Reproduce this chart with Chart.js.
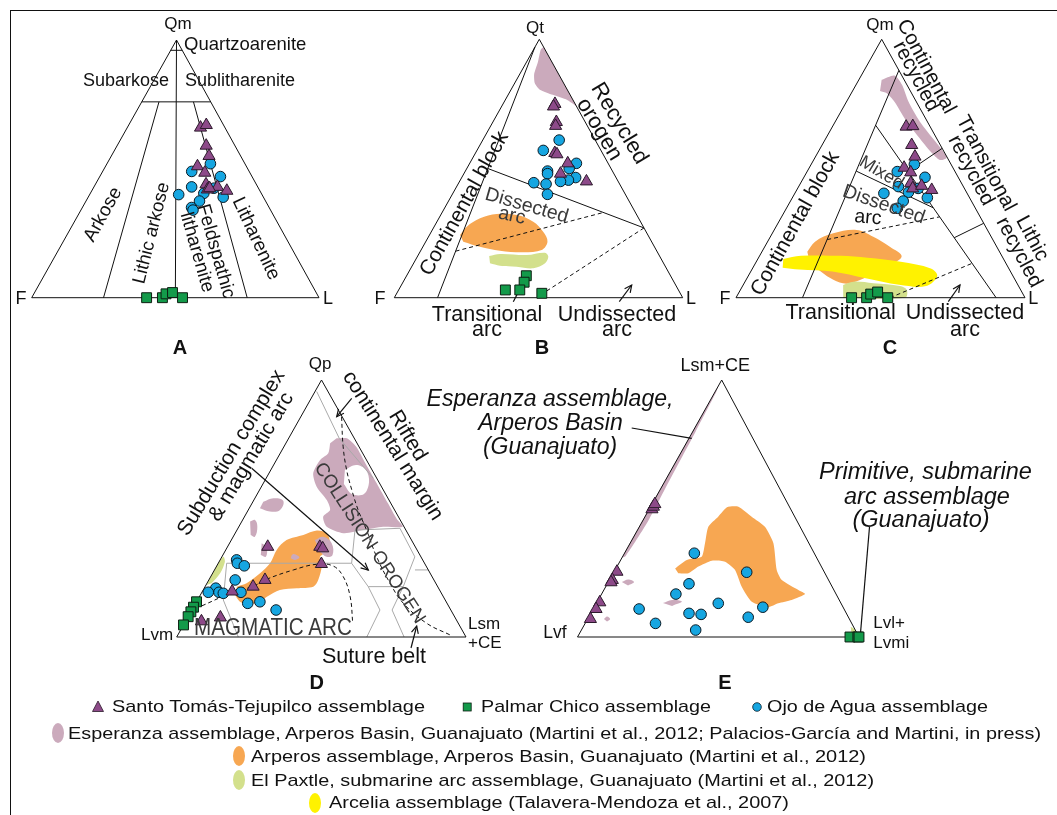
<!DOCTYPE html>
<html>
<head>
<meta charset="utf-8">
<title>Provenance ternary diagrams</title>
<script src="https://cdn.jsdelivr.net/npm/chart.js@4.4.1/dist/chart.umd.min.js"></script>
<style>
  html, body { margin: 0; padding: 0; background: #fff; }
  #wrap { position: relative; width: 1057px; height: 815px; overflow: hidden; background: #fff; }
  #plot { position: absolute; left: 0; top: 0; }
  #frame { position: absolute; left: 10px; top: 10px; width: 1060px; height: 820px;
           border-left: 1.6px solid #111; border-top: 1.6px solid #111; }
  .lb { position: absolute; white-space: nowrap; line-height: 1; color: #111;
        font-family: "Liberation Sans", Arial, Helvetica, sans-serif; }
  .lg { position: absolute; white-space: nowrap; line-height: 1; color: #111;
        font-family: "Liberation Sans", Arial, Helvetica, sans-serif; font-size: 17px;
        transform-origin: left center; }
  .sym { position: absolute; }
</style>
</head>
<body>
<div id="wrap">
  <canvas id="plot" width="1057" height="815"></canvas>
  <div id="frame"></div>
</div>
<script>
// ---------- compositions, % (apex, lower-left, lower-right) ----------
// A: Qm-F-L
const A_SantoTomas = [[66,8.5,25.5],[67,6,27],[59,10,31],[55,11,34],[51,17,32],[48.5,15.7,35.8],[44,17.5,38.5],[42,18,40],[43,14,43],[41.5,11.5,47],[42.5,17,40.5]];
const A_OjoAgua = [[52,12,36],[49,20,31],[47,11,42],[43,23,34],[42.5,15.5,42],[40,29,31],[40.5,20,39.5],[39,14,47],[37.5,23,39.5],[35,27,38],[34,27,39]];
const A_PalmarChico = [[0,60,40],[0,54.5,45.5],[1.5,52.5,46],[2,50,48],[0,47.5,52.5]];

// B: Qt-F-L
const B_SantoTomas = [[75,7,18],[74,8,18],[68,10,22],[66.5,11,22.5],[56,16.5,27.5],[55.5,16,28.5],[52,14,34],[48,18.5,33.5],[45,11,44]];
const B_OjoAgua = [[61,12.5,26.5],[57,20,23],[49,22.5,28.5],[48,23,29],[52,11,37],[50,14.5,35.5],[46.5,14,39.5],[45.5,17,37.5],[45,20,35],[44.5,29.5,26],[44,25.5,30.5],[40,27,33]];
const B_PalmarChico = [[8.5,50,41.5],[6,52,42],[3,60,37],[3,55,42],[1.7,48,50.3]];
const B_Esperanza = [[97,0,3],[96,1.5,2.5],[91,5,4],[86.5,8.5,5],[83,10,7],[80.5,9.5,10],[78.5,6,15.5],[76.5,2,21.5],[74,0,26]];
const B_Arperos = [[24.3,65.1,10.6],[27.5,61.2,11.3],[30.7,55,14.3],[32.4,48.4,19.2],[32,41.6,26.4],[29.4,37.2,33.4],[25.5,35.7,38.8],[21.7,36.1,42.2],[18.5,39.7,41.8],[17.6,46.5,35.9],[18.2,54.3,27.5],[19.7,60.5,19.8],[21.7,65.3,13]];
const B_Paxtle = [[16.1,59.1,24.8],[16.9,54.9,28.2],[16.5,45.9,37.6],[17.4,39.1,43.5],[15.9,38.7,45.4],[13.3,41.1,45.6],[11.4,46.1,42.5],[12,51.6,36.4],[12.4,57.2,30.4],[13.3,60.2,26.5]];

// C: Qm-F-Lt
const C_SantoTomas = [[66.2,8.3,25.5],[66.4,5.9,27.7],[59.1,9.9,31],[54.6,11,34.4],[50.3,16.9,32.8],[48.5,15.5,36],[44.3,17.6,38.1],[42.3,17.9,39.8],[43.3,14.3,42.4],[41.7,11.6,46.7]];
const C_OjoAgua = [[51.6,12.7,35.7],[48.8,20,31.2],[46.6,11.5,41.9],[43,22.5,34.5],[42.3,16,41.7],[40.8,20.1,39.1],[38.7,14.6,46.7],[40.4,28.8,30.8],[37.4,23.6,39],[34.6,27,38.4]];
const C_PalmarChico = [[0,60,40],[0,54.8,45.2],[1.4,52.7,45.9],[2.2,49.9,47.9],[0,47.5,52.5]];
const C_Esperanza = [[84.3,7.8,7.9],[86,2.5,11.5],[82.3,1.7,16],[75.9,2.7,21.4],[68.1,2.6,29.3],[60.6,1.1,38.3],[56.5,0.2,43.3],[54.2,0.2,45.6],[53.3,3,43.7],[56.5,4.6,38.9],[62.3,6,31.7],[68.8,7.2,24],[75.9,7.6,16.5],[79.1,8.6,12.3],[80,10.5,9.5]];
const C_Arperos = [[17.8,66.5,15.7],[21.7,61.9,16.4],[24.9,54,21.1],[26.2,45.3,28.5],[23.6,40.8,35.6],[19.7,37,43.3],[15.9,34.8,49.3],[12,41.9,46.1],[5.6,57.8,36.6],[6.9,62.9,30.2],[13.3,67.8,18.9]];
const C_Arcelia = [[15,76.2,8.8],[16.2,69.5,14.3],[16.2,55.7,28.1],[15.5,46.8,37.7],[13.9,36.1,50],[11.3,27,61.7],[8.4,26.2,65.4],[4.5,32,63.5],[5,41.1,53.9],[7.5,51.4,41.1],[10.1,61.6,28.3],[10.9,72.7,16.4],[11.6,78.1,10.3]];
const C_Paxtle = [[4.9,60.5,34.6],[6.2,56.3,37.5],[5.6,49.7,44.7],[4.5,41,54.5],[3,39.4,57.6],[0,41.5,58.5],[0,62.9,37.1]];

// D: Qp-Lvm-(Lsm+CE)
const D_SantoTomas = [[35.1,51,13.9],[35.1,33,31.9],[34.5,32.3,33.2],[28.4,35.8,35.8],[22.2,58.4,19.4],[19.6,63.8,16.6],[17.7,72,10.3],[6.1,88.4,5.5],[7.6,81.1,11.3]];
const D_OjoAgua = [[30,64.3,5.7],[28.7,64.7,6.6],[27.7,62.8,9.5],[22.2,68.7,9.1],[19,77,4],[17.4,76.7,5.9],[17,75.4,7.6],[17.4,80.4,2.2],[17.4,69.1,13.5],[13.1,68.9,18],[13.7,64.4,21.9],[10.5,60.4,29.1]];
const D_PalmarChico = [[13.7,86.3,0],[11.6,88.4,0],[9.8,90.2,0],[7.9,92.1,0],[4.7,95.3,0]];
const D_Esperanza = [[77.3,6.1,16.6],[77.3,2.6,20.1],[74,1,25],[68,1,31],[60,1,39],[52,1,47],[46,1,53],[42.9,0.5,56.6],[42.9,7.2,49.9],[41.6,14.7,43.7],[40.4,22.2,37.4],[42.9,26.7,30.4],[46.8,26,27.2],[49.4,22.3,28.3],[53.3,21.5,25.2],[58.5,22.4,19.1],[63.7,21,15.3],[68.9,16,15.1],[71.5,11.9,16.6],[75.4,9.3,15.3]];
const D_EsperanzaGap = [[65,9.4,25.6],[66.9,4.6,28.5],[65,2.1,32.9],[60.3,3.4,36.3],[55.6,7.5,36.9],[55.6,11.7,32.7],[59.5,12.5,28]];
const D_EsperanzaSmall = [
  [[52.6,43.8,3.6],[54,39.6,6.4],[53,36.7,10.3],[49.4,39.6,11],[48.8,43.4,7.8],[50.1,46.2,3.7]],
  [[44.9,52.2,2.9],[45.5,50.2,4.3],[42.9,50.7,6.4],[39,53.5,7.5],[39.7,54.6,5.7]],
  [[36.5,52.4,11.1],[34.9,51.5,13.6],[31.2,53.6,15.2],[31.9,55,13.1]]
];
const D_EsperanzaInArperos = [
  [[37.7,33.4,28.9],[39,29.9,31.1],[36.5,28.2,35.3],[31.9,30.2,37.9],[31.2,32.6,36.2],[33.2,33.9,32.9]],
  [[31.9,44.3,23.8],[32.3,43.4,24.3],[31,42.1,26.9],[30,44.1,25.9],[30.6,45.3,24.1]]
];
const D_Arperos = [[19.6,69.4,11],[20.9,65.4,13.7],[24.8,58.8,16.4],[28.7,53.4,17.9],[33.9,48.5,17.6],[37.7,43.2,19.1],[39.7,36.4,23.9],[41.4,30.9,27.7],[40.4,27.9,31.7],[36.5,28.8,34.7],[33.2,31.6,35.2],[31.2,34.9,33.9],[27.4,36.2,36.4],[22.2,40,37.8],[19.6,43,37.4],[19,49,32],[18.3,55.2,26.5],[15.7,61,23.3],[13.1,65.8,21.1],[13.1,69.3,17.6],[13.7,71.3,15],[16.3,71.7,12]];
const D_Paxtle = [[20.2,79.6,0.2],[27.4,72.6,0],[31.2,68.3,0.5],[29.3,68.7,2],[24.8,72.6,2.6],[20.9,77.5,1.6]];
const D_ArcTrend = [[12.1,85.3,2.6],[17.2,72.4,10.4],[19.8,63.6,16.6],[22.5,57.6,19.9],[26.1,46.6,27.3],[28.3,37.5,34.2],[27.6,32.1,40.3],[23.5,30.7,45.8],[15.7,32.2,52.1],[5.3,36.5,58.2]];
const D_SutureTrend = [[85.7,0.2,14.1],[74,5.5,20.5],[65,8.8,26.2],[57.2,10.9,31.9],[49.4,12.6,38],[41.6,13.6,44.8],[31.2,15.3,53.5],[20.9,15.8,63.3],[13.1,15.1,71.8],[5.3,10.9,83.8],[0.8,5.1,94.1]];
// provenance-field net (grey)
const D_net = [
  [[95.5,3.9,0.6],[77.3,5.2,17.5],[61.8,1.2,37]],
  [[41.6,17.6,40.8],[42.3,1.7,56],[31.2,2.1,66.7],[19.6,11.9,68.5],[19.6,24,56.4],[28.7,25.2,46.1],[41.6,17.6,40.8]],
  [[28.7,68.4,2.9],[28.7,25.2,46.1]],
  [[19.6,24,56.4],[10.5,24.5,65],[0,34.3,65.7]],
  [[19.6,11.9,68.5],[10.5,20.3,69.2],[0,21.4,78.6]],
  [[26.1,4.6,69.3],[26.1,0,73.9]],
  [[28.7,68.4,2.9],[14.4,76.7,8.9],[0,78.7,21.3]]
];

// E: (Lsm+CE)-Lvf-(Lvl+Lvmi)
const E_SantoTomas = [[49.7,49.3,1],[50.7,48.3,1],[51.7,47.3,1],[25.4,73.6,1],[22.2,76.8,1],[21.3,77.7,1],[13.5,85.5,1],[10.9,88.1,1],[7,92,1]];
const E_OjoAgua = [[32.6,42.6,24.8],[25.2,27.6,47.2],[20.7,50.3,29],[16.7,56.9,26.4],[10.9,72.8,16.3],[13.1,43.6,43.3],[9.2,55.9,34.9],[8.8,51.8,39.4],[11.6,28.5,59.9],[7.7,35.6,56.7],[5.3,69.7,25],[2.7,56.7,40.6]];
const E_PalmarChico = [[0,3.2,96.8],[0,0.4,99.6],[0,0,100]];
const E_Esperanza = [[98,2,0],[31,69,0],[31.5,67.5,1],[45,53,2],[60,38.5,1.5],[80,19,1],[95,4.5,0.5]];
const E_EsperanzaSmall = [
  [[21.4,73.8,4.8],[22.4,71.1,6.5],[21.4,69.5,9.1],[20,72.3,7.7]],
  [[13.2,63.2,23.6],[14.4,59.4,26.2],[13.8,56.2,30],[12.1,60.5,27.4]],
  [[7,87.2,5.8],[8,85.6,6.4],[7,85,8],[6,86.6,7.4]]
];
const E_Arperos = [[26.7,52.3,21],[30,46.5,23.5],[31.2,40.7,28.1],[36.5,36.9,26.6],[42.9,32.6,24.5],[46.8,27.2,26],[51,22.5,27.5],[50.7,18.1,31.2],[46.8,15.3,37.9],[42.9,12.5,44.6],[36.5,12.6,50.9],[26.1,16.5,57.4],[22.2,16.6,61.2],[18.3,12.6,69.1],[16.7,11,72.3],[14.4,16.9,68.7],[13.1,22.3,64.6],[11.6,26.6,61.8],[13.7,31.4,54.9],[19.6,32.1,48.3],[26.1,31.3,42.6],[29.3,33.3,37.4],[29.7,37.8,32.5],[27.4,43.7,28.9],[24.8,48.5,26.7],[24.8,52.1,23.1]];
const E_Paxtle = [[4,1,95],[0,2.5,97.5],[0,0,100],[3,0,97]];

// ---------- field boundaries, % ----------
const A_bounds = [
  [[96,4,0],[96,0,4]], [[76,24,0],[76,0,24]], [[100,0,0],[0,50,50]],
  [[76,18,6],[0,75,25]], [[76,6,18],[0,25,75]]
];
const B_bounds = [[[97,3,0],[0,85,15]], [[50,42.7,7.3],[27,0,73]]];
const B_dashed = [[[18,69.8,12.2],[33,11,56]], [[27,0,73],[2,47,51]]];
const C_bounds = [
  [[88,0,12],[0,77,23]], [[66.8,18.6,14.6],[0,10,90]], [[57.8,0,42.2],[48.8,16.3,34.9]],
  [[28.8,0,71.2],[23.2,13,63.8]], [[49,34.1,16.9],[34.8,14.5,50.7]]
];
const C_dashed = [[[22.5,57.3,20.2],[31.3,14,54.7]], [[0,46.7,53.3],[13.3,11.7,75]]];

// ---------- diagram placement on the page (px) ----------
const GEOM = {
  A: { xl: 31.7,  xr: 319,   xa: 176.5, ya: 40,   yb: 297.7 },
  B: { xl: 394.3, xr: 682.7, xa: 539.3, ya: 39.3, yb: 297.7 },
  C: { xl: 736,   xr: 1025,  xa: 881.7, ya: 39.3, yb: 297.7 },
  D: { xl: 176.7, xr: 466,   xa: 321.5, ya: 380,  yb: 637 },
  E: { xl: 577.5, xr: 859,   xa: 721.7, ya: 380,  yb: 637 }
};
const OUTLINE = [[100,0,0],[0,100,0],[0,0,100],[100,0,0]];

// pointer lines / arrows (page px): [x1,y1,x2,y2,head]
const POINTERS = [
  [513.3,301.7,519,290.7,false], [619.3,301.7,631.7,285,true],
  [948.3,301.7,960,285,true],
  [251.7,468.3,368.3,570,true], [351.7,398.3,336.7,416.7,true], [411,648,416.7,626,true],
  [631.7,428,691.7,438.3,false], [869.5,527,860.5,633,false]
];

const COL = {
  tri: '#8d4a89', triEdge: '#2b1a2b',
  sq: '#139a4a', sqEdge: '#0d1f12',
  circ: '#16a6e1', circEdge: '#0a1a24',
  esp: '#cbaabc', arp: '#f7a752', pax: '#d3e08c', arc: '#fff200', net: '#a9a9a9'
};

function tern(g, p) {
  const s = p[0] + p[1] + p[2];
  const t = p[0] / s, l = p[1] / s, r = p[2] / s;
  return { x: t * g.xa + l * g.xl + r * g.xr, y: t * g.ya + (1 - t) * g.yb };
}

const layers = [];   // drawn bottom first
function area(g, pts, color, tension) {
  layers.push({ data: pts.map(p => tern(g, p)), showLine: true, fill: 'shape',
    backgroundColor: color, borderColor: color, borderWidth: 0, pointRadius: 0,
    tension: tension === undefined ? 0.35 : tension });
}
function path(g, pts, opt) {
  opt = opt || {};
  layers.push({ data: pts.map(p => tern(g, p)), showLine: true, fill: false,
    borderColor: opt.color || '#111', borderWidth: opt.width || 1, pointRadius: 0,
    borderDash: opt.dash || [], tension: opt.tension || 0 });
}
function markers(g, pts, style) {
  const m = {
    tri:  { pointStyle: 'triangle', pointRadius: 7,   backgroundColor: COL.tri,  borderColor: COL.triEdge },
    sq:   { pointStyle: 'rect',     pointRadius: 7,   backgroundColor: COL.sq,   borderColor: COL.sqEdge },
    circ: { pointStyle: 'circle',   pointRadius: 5.3, backgroundColor: COL.circ, borderColor: COL.circEdge }
  }[style];
  layers.push(Object.assign({ data: pts.map(p => tern(g, p)), showLine: false,
    borderWidth: 1, pointHoverRadius: 0 }, m));
}

// fields
area(GEOM.B, B_Esperanza, COL.esp, 0.2);
area(GEOM.B, B_Arperos, COL.arp);
area(GEOM.B, B_Paxtle, COL.pax);
area(GEOM.C, C_Esperanza, COL.esp, 0.25);
area(GEOM.C, C_Arperos, COL.arp);
area(GEOM.C, C_Paxtle, COL.pax);
area(GEOM.C, C_Arcelia, COL.arc);
area(GEOM.D, D_Esperanza, COL.esp, 0.25);
area(GEOM.D, D_EsperanzaGap, '#ffffff');
D_EsperanzaSmall.forEach(b => area(GEOM.D, b, COL.esp, 0.4));
area(GEOM.D, D_Arperos, COL.arp, 0.3);
D_EsperanzaInArperos.forEach(b => area(GEOM.D, b, COL.esp, 0.4));
area(GEOM.D, D_Paxtle, COL.pax, 0.3);
area(GEOM.E, E_Esperanza, COL.esp, 0.2);
E_EsperanzaSmall.forEach(b => area(GEOM.E, b, COL.esp, 0.4));
area(GEOM.E, E_Arperos, COL.arp, 0.2);
area(GEOM.E, E_Paxtle, COL.pax, 0);

// boundaries
D_net.forEach(s => path(GEOM.D, s, { color: COL.net }));
A_bounds.forEach(s => path(GEOM.A, s));
B_bounds.forEach(s => path(GEOM.B, s));
B_dashed.forEach(s => path(GEOM.B, s, { dash: [4, 3] }));
C_bounds.forEach(s => path(GEOM.C, s));
C_dashed.forEach(s => path(GEOM.C, s, { dash: [4, 3] }));
path(GEOM.D, D_ArcTrend, { dash: [4, 3], tension: 0.4 });
path(GEOM.D, D_SutureTrend, { dash: [4, 3], tension: 0.4 });
['A','B','C','D','E'].forEach(k => path(GEOM[k], OUTLINE));

// pointers
POINTERS.forEach(([x1, y1, x2, y2, head]) => {
  layers.push({ data: [{x: x1, y: y1}, {x: x2, y: y2}], showLine: true, fill: false,
    borderColor: '#111', borderWidth: 1.2, pointRadius: 0 });
  if (head) {
    const a = Math.atan2(y2 - y1, x2 - x1), L = 8, w = 0.45;
    const h1 = {x: x2 - L * Math.cos(a - w), y: y2 - L * Math.sin(a - w)};
    const h2 = {x: x2 - L * Math.cos(a + w), y: y2 - L * Math.sin(a + w)};
    layers.push({ data: [h1, {x: x2, y: y2}, h2], showLine: true, fill: false,
      borderColor: '#111', borderWidth: 1.2, pointRadius: 0 });
  }
});

// samples
[['A', A_PalmarChico, A_OjoAgua, A_SantoTomas], ['B', B_PalmarChico, B_OjoAgua, B_SantoTomas],
 ['C', C_PalmarChico, C_OjoAgua, C_SantoTomas], ['D', D_PalmarChico, D_OjoAgua, D_SantoTomas],
 ['E', E_PalmarChico, E_OjoAgua, E_SantoTomas]].forEach(([k, sq, ci, tr]) => {
  markers(GEOM[k], sq, 'sq');
  markers(GEOM[k], ci, 'circ');
  markers(GEOM[k], tr, 'tri');
});

layers.forEach((d, i) => { d.order = layers.length - i; d.clip = false; });

new Chart(document.getElementById('plot'), {
  type: 'scatter',
  data: { datasets: layers },
  options: {
    responsive: false, animation: false, events: [],
    layout: { padding: 0, autoPadding: false },
    scales: {
      x: { type: 'linear', min: 0, max: 1057, display: false },
      y: { type: 'linear', min: 0, max: 815, reverse: true, display: false }
    },
    plugins: { legend: { display: false }, tooltip: { enabled: false } }
  }
});

// ---------- text ----------
// [text, x, y, size, rotation, flags]  flags: b bold, i italic, g grey, l left-anchored, r right-anchored
const LABELS = [
  ['Qm',178,23,17,0,''], ['Quartzoarenite',184,44,18.5,0,'l'], ['Subarkose',126,80,18,0,''], ['Sublitharenite',240,80,18,0,''],
  ['Arkose',101.7,214,19,-61,''], ['Lithic arkose',150.7,233.3,18.5,-76,''], ['litharenite',198.3,252.3,19,74,''],
  ['Feldspathic',216.7,250.7,19,74,''], ['Litharenite',257.3,238.3,19,65,''], ['F',21,298,18,0,''], ['L',328,298,18,0,''],
  ['A',180,347,20,0,'b'],
  ['Qt',535,27,17,0,''], ['F',380,298,18,0,''], ['L',691,298,18,0,''], ['Continental block',463.3,203.3,21,-61,''],
  ['Recycled',620,123.3,22,59,''], ['orogen',600.3,129.3,22,59,''], ['Dissected',526.7,205,19.5,16,'g'], ['arc',511.7,215,19.5,12,'g'],
  ['Transitional',487,315,21.5,0,''], ['arc',487,330,21.5,0,''], ['Undissected',617,315,21.5,0,''], ['arc',617,330,21.5,0,''],
  ['B',542,347,20,0,'b'],
  ['Qm',880,24,17,0,''], ['F',725,298,18,0,''], ['L',1033.3,298,18,0,''], ['Continental block',794.3,222.7,21,-61,''],
  ['Continental',926.7,65.7,20.5,62,''], ['recycled',917.3,76,20.5,62,''], ['Transitional',986.7,162.7,20.5,62,''],
  ['recycled',971.7,170,20.5,62,''], ['Lithic',1033,238,20.5,62,''], ['recycled',1020,251.7,20.5,62,''],
  ['Mixed',881.7,171.7,18,31,'g'], ['Dissected',884,204.3,19.5,19,'g'], ['arc',868.3,216.7,19.5,5,''],
  ['Transitional',840.7,313.3,21.5,0,''], ['Undissected',965,313.3,21.5,0,''], ['arc',965,330,21.5,0,''],
  ['C',890,346.7,20,0,'b'],
  ['Qp',320,363.3,17,0,''], ['Subduction complex',230,452.3,21,-59,''], ['& magmatic arc',250,455.7,21,-59,''],
  ['Rifted',409,435,21,59,''], ['continental margin',394,445,21,58,''], ['COLLISION OROGEN',370,543.3,18.7,57,'g'],
  ['Lvm',157,634,17,0,''], ['Lsm',468,622.7,17,0,'l'], ['+CE',468,642.3,17,0,'l'], ['Suture belt',374,656.7,21.5,0,''],
  ['D',316.7,681.7,20,0,'b'],
  ['Lsm+CE',715.3,365,18,0,''], ['Esperanza assemblage,',550,397.7,23,0,'i'], ['Arperos Basin',550.5,421.7,23,0,'i'],
  ['(Guanajuato)',550,445.7,23,0,'i'], ['Primitive, submarine',925.5,472,23.5,0,'i'], ['arc assemblage',927,496.7,23.5,0,'i'],
  ['(Guanajuato)',921,520,23.5,0,'i'], ['Lvf',555,633.3,17.5,0,''], ['Lvl+',873.3,621.7,17,0,'l'], ['Lvmi',873.3,641.7,17,0,'l'],
  ['E',725,681.7,20,0,'b']
];
const wrap = document.getElementById('wrap');
LABELS.forEach(([txt, x, y, size, rot, f]) => {
  const d = document.createElement('div');
  d.className = 'lb';
  d.textContent = txt;
  d.style.left = x + 'px';
  d.style.top = y + 'px';
  d.style.fontSize = size + 'px';
  if (f.includes('b')) d.style.fontWeight = 'bold';
  if (f.includes('i')) d.style.fontStyle = 'italic';
  if (f.includes('g')) d.style.color = '#3a3a3a';
  const tx = f.includes('l') ? '0' : (f.includes('r') ? '-100%' : '-50%');
  d.style.transformOrigin = f.includes('l') ? 'left center' : 'center center';
  d.style.transform = `translate(${tx},-50%) rotate(${rot}deg)`;
  wrap.appendChild(d);
});
// MAGMATIC ARC is set in a narrow face
(function () {
  const d = document.createElement('div');
  d.className = 'lb';
  d.textContent = 'MAGMATIC ARC';
  d.style.cssText += 'left:273px;top:627.3px;font-size:24px;color:#3a3a3a;transform:translate(-50%,-50%) scaleX(0.86);';
  wrap.appendChild(d);
})();

// ---------- key ----------
const KEY = [
  { sym: 'tri', sx: 98, text: 'Santo Tomás-Tejupilco assemblage', x: 112, w: 313, y: 706.7 },
  { sym: 'sq', sx: 467, text: 'Palmar Chico assemblage', x: 481, w: 230, y: 706.7 },
  { sym: 'circ', sx: 757, text: 'Ojo de Agua assemblage', x: 767, w: 221, y: 706.7 },
  { sym: COL.esp, sx: 57.6, text: 'Esperanza assemblage, Arperos Basin, Guanajuato (Martini et al., 2012; Palacios-García and Martini, in press)', x: 67.7, w: 973, y: 733.3 },
  { sym: COL.arp, sx: 238.5, text: 'Arperos assemblage, Arperos Basin, Guanajuato (Martini et al., 2012)', x: 250.7, w: 615, y: 756 },
  { sym: COL.pax, sx: 238.5, text: 'El Paxtle, submarine arc assemblage, Guanajuato (Martini et al., 2012)', x: 250.7, w: 623, y: 780 },
  { sym: COL.arc, sx: 315, text: 'Arcelia assemblage (Talavera-Mendoza et al., 2007)', x: 328.6, w: 460, y: 802.7 }
];
const NS = 'http://www.w3.org/2000/svg';
KEY.forEach(k => {
  const t = document.createElement('div');
  t.className = 'lg';
  t.textContent = k.text;
  t.style.left = k.x + 'px';
  t.style.top = (k.y - 8.5) + 'px';
  wrap.appendChild(t);
  const s = t.getBoundingClientRect().width;
  t.style.transform = `scaleX(${k.w / s})`;

  const svg = document.createElementNS(NS, 'svg');
  svg.setAttribute('class', 'sym');
  svg.setAttribute('width', 22); svg.setAttribute('height', 22);
  svg.style.left = (k.sx - 11) + 'px'; svg.style.top = (k.y - 11) + 'px';
  let el;
  if (k.sym === 'tri') {
    el = document.createElementNS(NS, 'polygon');
    el.setAttribute('points', '11,5 16.5,15.5 5.5,15.5');
    el.setAttribute('fill', COL.tri); el.setAttribute('stroke', COL.triEdge);
  } else if (k.sym === 'sq') {
    el = document.createElementNS(NS, 'rect');
    el.setAttribute('x', 7.2); el.setAttribute('y', 7); el.setAttribute('width', 8); el.setAttribute('height', 8);
    el.setAttribute('fill', COL.sq); el.setAttribute('stroke', COL.sqEdge);
  } else if (k.sym === 'circ') {
    el = document.createElementNS(NS, 'circle');
    el.setAttribute('cx', 11); el.setAttribute('cy', 11); el.setAttribute('r', 4.3);
    el.setAttribute('fill', COL.circ); el.setAttribute('stroke', COL.circEdge);
  } else {
    el = document.createElementNS(NS, 'ellipse');
    el.setAttribute('cx', 11); el.setAttribute('cy', 11); el.setAttribute('rx', 6); el.setAttribute('ry', 10);
    el.setAttribute('fill', k.sym);
  }
  el.setAttribute('stroke-width', 0.8);
  svg.appendChild(el);
  wrap.appendChild(svg);
});
</script>
</body>
</html>
